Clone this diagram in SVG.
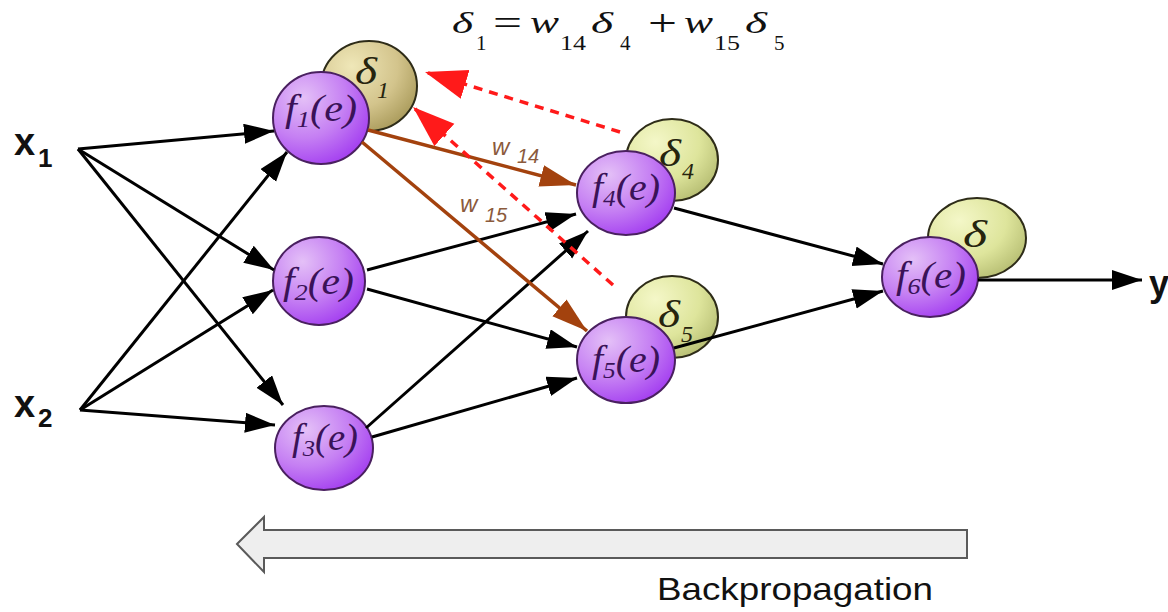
<svg xmlns="http://www.w3.org/2000/svg" width="1168" height="612" viewBox="0 0 1168 612">
<defs>
<radialGradient id="gP" cx="32%" cy="28%" r="80%">
<stop offset="0" stop-color="#e4c0f7"/>
<stop offset="0.55" stop-color="#c57ff3"/>
<stop offset="1" stop-color="#a23cf0"/>
</radialGradient>
<radialGradient id="gK" cx="32%" cy="28%" r="80%">
<stop offset="0" stop-color="#efe7b8"/>
<stop offset="0.6" stop-color="#d3c48c"/>
<stop offset="1" stop-color="#a99a5a"/>
</radialGradient>
<radialGradient id="gG" cx="32%" cy="28%" r="80%">
<stop offset="0" stop-color="#f4f7c8"/>
<stop offset="0.6" stop-color="#dee59c"/>
<stop offset="1" stop-color="#b6bd72"/>
</radialGradient>
<marker id="aB" markerUnits="userSpaceOnUse" markerWidth="32" markerHeight="22" refX="30" refY="10" orient="auto">
<path d="M0,0 L30,10 L0,20 z" fill="#000"/>
</marker>
<marker id="aR" markerUnits="userSpaceOnUse" markerWidth="38" markerHeight="24" refX="36" refY="11" orient="auto">
<path d="M0,0 L36,11 L0,22 z" fill="#a3420e"/>
</marker>
<marker id="aD" markerUnits="userSpaceOnUse" markerWidth="44" markerHeight="32" refX="42" refY="15" orient="auto">
<path d="M0,0 L42,15 L0,30 z" fill="#ff1a1a"/>
</marker>
<style>
.fn{fill:url(#gP);stroke:#4a2060;stroke-width:2}
.dk{fill:url(#gK);stroke:#2e2c18;stroke-width:2}
.dg{fill:url(#gG);stroke:#2e2c18;stroke-width:2}
.fl{font-family:"Liberation Serif","DejaVu Serif",serif;font-style:italic;font-size:38px;fill:#3a1258}
.sb{font-size:24px}
.dl{font-family:"Liberation Serif","DejaVu Serif",serif;font-style:italic;font-size:38px;fill:#26240e}
.ds{font-size:24px}
.blk{stroke:#000;stroke-width:3;fill:none;marker-end:url(#aB)}
.brn{stroke:#a3420e;stroke-width:3.5;fill:none;marker-end:url(#aR)}
.red{stroke:#ff1a1a;stroke-width:3.5;fill:none;stroke-dasharray:9 7;marker-end:url(#aD)}
.inp{font-family:"Liberation Sans",Arial,sans-serif;font-weight:bold;fill:#111}
.wl{font-family:"Liberation Sans",Arial,sans-serif;font-style:italic;fill:#8b5a3c}
.eq{font-family:"Liberation Serif","DejaVu Serif",serif;fill:#111}
.it{font-style:italic}
</style>
</defs>
<rect width="1168" height="612" fill="#fff"/>

<g id="formula" class="eq">
<text class="it" x="452" y="33" font-size="30" textLength="21" lengthAdjust="spacingAndGlyphs">δ</text>
<text x="476" y="50" font-size="21">1</text>
<text x="493" y="35" font-size="36" textLength="29" lengthAdjust="spacingAndGlyphs">=</text>
<text class="it" x="530" y="33" font-size="32" textLength="29" lengthAdjust="spacingAndGlyphs">w</text>
<text x="560" y="50" font-size="21" textLength="26" lengthAdjust="spacingAndGlyphs">14</text>
<text class="it" x="591" y="33" font-size="30" textLength="22" lengthAdjust="spacingAndGlyphs">δ</text>
<text x="620" y="50" font-size="21">4</text>
<text x="648" y="36" font-size="38" textLength="29" lengthAdjust="spacingAndGlyphs">+</text>
<text class="it" x="684" y="33" font-size="32" textLength="29" lengthAdjust="spacingAndGlyphs">w</text>
<text x="714" y="50" font-size="21" textLength="26" lengthAdjust="spacingAndGlyphs">15</text>
<text class="it" x="745" y="33" font-size="30" textLength="22" lengthAdjust="spacingAndGlyphs">δ</text>
<text x="774" y="50" font-size="21">5</text>
</g>

<g id="x1"><text class="inp" x="14" y="155" font-size="38">x</text><text class="inp" x="38" y="167" font-size="26">1</text></g>
<g id="x2"><text class="inp" x="14" y="417" font-size="38">x</text><text class="inp" x="38" y="427" font-size="26">2</text></g>
<g id="y"><text class="inp" x="1149" y="296" font-size="36">y</text></g>

<g id="n1">
<ellipse class="dk" cx="369" cy="86" rx="48" ry="45"/>
<text class="dl" x="355" y="84" textLength="22" lengthAdjust="spacingAndGlyphs">δ</text><text class="dl ds" x="377" y="98">1</text>
<ellipse class="fn" cx="321" cy="118" rx="48" ry="46"/>
<text class="fl" x="285" y="121" textLength="72" lengthAdjust="spacingAndGlyphs">f<tspan class="sb" dy="6">1</tspan><tspan dy="-6">(e)</tspan></text>
</g>
<g id="n2">
<ellipse class="fn" cx="319" cy="281" rx="46" ry="44"/>
<text class="fl" x="283" y="294" textLength="71" lengthAdjust="spacingAndGlyphs">f<tspan class="sb" dy="6">2</tspan><tspan dy="-6">(e)</tspan></text>
</g>
<g id="n3">
<ellipse class="fn" cx="324" cy="448" rx="49" ry="42"/>
<text class="fl" x="292" y="450" textLength="66" lengthAdjust="spacingAndGlyphs">f<tspan class="sb" dy="6">3</tspan><tspan dy="-6">(e)</tspan></text>
</g>
<g id="n4">
<ellipse class="dg" cx="672" cy="160" rx="46" ry="41"/>
<text class="dl" x="659" y="166" textLength="22" lengthAdjust="spacingAndGlyphs">δ</text><text class="dl ds" x="682" y="179">4</text>
<ellipse class="fn" cx="626" cy="193" rx="49" ry="42"/>
<text class="fl" x="592" y="200" textLength="68" lengthAdjust="spacingAndGlyphs">f<tspan class="sb" dy="6">4</tspan><tspan dy="-6">(e)</tspan></text>
</g>
<g id="n5">
<ellipse class="dg" cx="672" cy="317" rx="46" ry="41"/>
<text class="dl" x="658" y="327" textLength="22" lengthAdjust="spacingAndGlyphs">δ</text><text class="dl ds" x="681" y="342">5</text>
<ellipse class="fn" cx="626" cy="360" rx="49" ry="43"/>
<text class="fl" x="592" y="372" textLength="68" lengthAdjust="spacingAndGlyphs">f<tspan class="sb" dy="6">5</tspan><tspan dy="-6">(e)</tspan></text>
</g>
<g id="n6">
<ellipse class="dg" cx="977" cy="238" rx="49" ry="40"/>
<text class="dl" x="963" y="247" textLength="24" lengthAdjust="spacingAndGlyphs">δ</text>
<ellipse class="fn" cx="930" cy="277" rx="48" ry="40"/>
<text class="fl" x="896" y="288" textLength="70" lengthAdjust="spacingAndGlyphs">f<tspan class="sb" dy="6">6</tspan><tspan dy="-6">(e)</tspan></text>
</g>

<g id="connectors">
<line class="blk" x1="78" y1="149" x2="274" y2="131"/>
<line class="blk" x1="78" y1="149" x2="274" y2="270"/>
<line class="blk" x1="78" y1="149" x2="283" y2="405"/>
<line class="blk" x1="80" y1="410" x2="287" y2="152"/>
<line class="blk" x1="80" y1="410" x2="273" y2="290"/>
<line class="blk" x1="80" y1="410" x2="275" y2="425"/>
<line class="blk" x1="367" y1="270" x2="576" y2="214"/>
<line class="blk" x1="367" y1="289" x2="577" y2="347"/>
<line class="blk" x1="366" y1="428" x2="588" y2="231"/>
<line class="blk" x1="372" y1="437" x2="577" y2="378"/>
<line class="blk" x1="674" y1="208" x2="883" y2="264"/>
<line class="blk" x1="674" y1="348" x2="883" y2="291"/>
<line class="blk" x1="978" y1="280" x2="1142" y2="280"/>
<line class="brn" x1="368" y1="130" x2="576" y2="185"/>
<line class="brn" x1="362" y1="142" x2="587" y2="331"/>
<line class="red" x1="620" y1="132" x2="425" y2="72"/>
<line class="red" x1="613" y1="285" x2="413" y2="107"/>
<text class="wl" x="492" y="155" font-size="24">w</text><text class="wl" x="517" y="163" font-size="20">14</text>
<text class="wl" x="460" y="212" font-size="24">w</text><text class="wl" x="485" y="222" font-size="20">15</text>
</g>

<g id="backprop">
<polygon points="237,544 264,517 264,530 967,530 967,558 264,558 264,572" fill="#eeeeee" stroke="#5a5a5a" stroke-width="2"/>
<text x="657" y="600" font-family="Liberation Sans, Arial, sans-serif" font-size="32" fill="#111" textLength="276" lengthAdjust="spacingAndGlyphs">Backpropagation</text>
</g>
</svg>
